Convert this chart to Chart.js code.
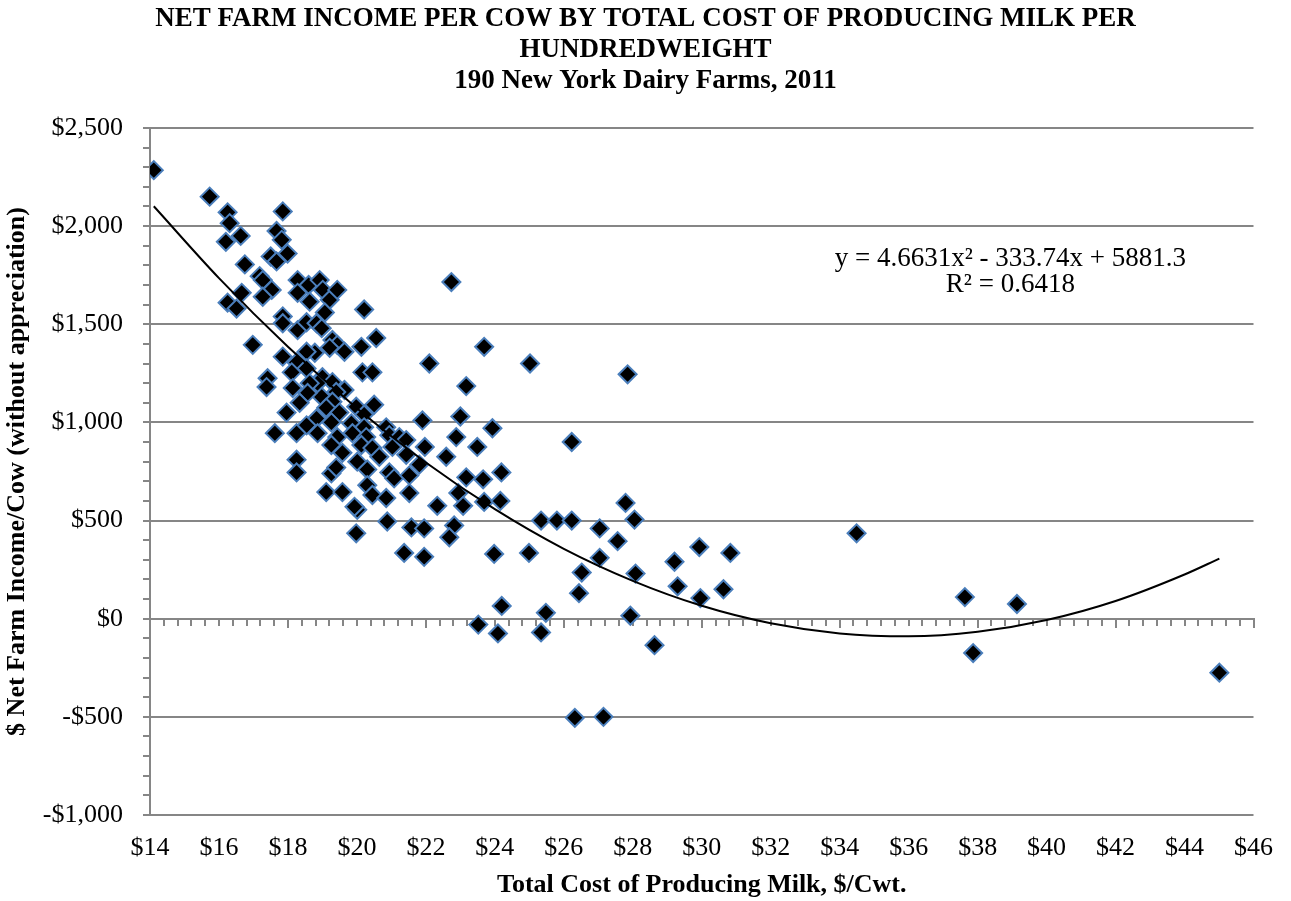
<!DOCTYPE html>
<html>
<head>
<meta charset="utf-8">
<script src="https://cdn.jsdelivr.net/npm/chart.js@4.4.0/dist/chart.umd.min.js"></script>
<style>
  html, body { margin: 0; padding: 0; background: #fff; }
  #wrap { width: 1291px; height: 901px; }
</style>
</head>
<body>
<div id="wrap"><canvas id="chart"></canvas></div>
<script>
/* ---------------------------------------------------
    Net farm income per cow vs total cost of milk, 2011
---------------------------------------------------*/

// total cost of producing milk, $/cwt (one entry per farm)
const costX = [
  14.11, 15.73, 16.25, 16.31, 16.20, 16.63, 17.85, 17.67, 17.82, 17.99,
  16.75, 17.50, 17.67, 17.18, 17.27, 17.53, 17.27, 16.66, 16.25, 16.51,
  17.85, 17.85, 16.98,
  18.28, 18.28, 18.60, 18.92, 19.01, 18.63, 19.21, 19.43, 19.07, 18.28,
  18.54, 18.83, 18.98, 20.21,
  17.85, 17.41, 17.38, 17.96, 17.62,
  19.29, 19.43, 19.64, 19.21, 18.78, 18.54, 20.13, 20.56, 18.25, 18.54,
  18.11, 20.16, 20.45, 22.10, 19.00, 19.29, 19.64, 19.40, 18.86, 18.63,
  18.14, 18.98, 18.57, 19.29, 19.98, 20.50, 20.21, 18.34, 19.11, 19.49,
  18.83, 18.54, 19.26, 19.84, 20.21, 20.85, 21.90, 18.25, 18.86, 19.43,
  19.87, 20.27, 20.94, 21.23, 21.43, 19.26, 19.58, 20.13, 20.45, 21.03,
  21.97, 21.43, 20.65,
  18.25, 18.25, 20.01, 20.30, 19.26, 19.40, 20.94, 21.08, 21.52, 21.81,
  20.30, 19.11, 19.58, 20.45, 20.85, 21.52, 20.01, 19.93, 20.88, 21.58,
  21.95, 19.98, 21.37, 21.95,
  23.69, 25.02, 23.17, 23.00, 23.93, 22.88, 23.49, 22.59, 23.17, 23.66,
  24.19, 22.94, 23.69, 24.16, 22.33, 23.08, 22.82, 22.68, 23.98, 24.99,
  22.74,
  24.20, 23.52, 24.09, 25.34, 25.48,
  26.23, 25.34, 25.80, 26.23, 27.04, 27.56, 27.79, 28.05, 27.04, 26.52,
  26.44, 27.93, 28.63, 28.08, 29.21, 29.30, 29.93, 29.96, 30.63, 30.83,
  26.32, 27.15, 27.85,
  34.49, 37.63, 39.14, 37.87, 45.01
];

// net farm income per cow without appreciation, $
const incomeY = [
  2285, 2150, 2070, 2015, 1920, 1950, 2075, 1975, 1930, 1860,
  1805, 1845, 1820, 1745, 1725, 1675, 1640, 1660, 1610, 1580,
  1540, 1505, 1395,
  1725, 1660, 1700, 1725, 1675, 1615, 1625, 1675, 1560, 1470,
  1510, 1505, 1480, 1575,
  1335, 1225, 1180, 1050, 945,
  1420, 1395, 1360, 1380, 1355, 1360, 1385, 1430, 1305, 1275,
  1255, 1255, 1255, 1300, 1230, 1205, 1165, 1155, 1200, 1200,
  1175, 1130, 1150, 1105, 1080, 1090, 1040, 1100, 1075, 1050,
  1020, 985, 1000, 995, 975, 975, 1010, 945, 945, 925,
  945, 925, 935, 925, 910, 885, 845, 885, 870, 875,
  875, 835, 825,
  810, 745, 800, 760, 740, 770, 745, 715, 730, 785,
  680, 645, 645, 630, 615, 640, 555, 570, 495, 465,
  460, 435, 335, 315,
  1385, 1300, 1185, 1030, 970, 925, 875, 825, 720, 710,
  745, 640, 595, 600, 575, 575, 475, 415, 330, 335,
  1715,
  65, -30, -75, -70, 30,
  900, 500, 500, 500, 460, 395, 590, 505, 310, 235,
  130, 15, -135, 230, 290, 165, 365, 105, 150, 335,
  -505, -500, 1245,
  435, 110, 75, -175, -275
];

// polynomial trendline
const trendX = [14.11, 16, 18, 20, 22, 24, 26, 28, 30, 32, 34, 36, 38, 40, 42, 44, 45.01];
const trendY = [2101, 1735, 1385, 1072, 796, 558, 356, 193, 66, -23, -75, -90, -67, -7, 90, 225, 306];

const titleLines = [
  "NET FARM INCOME PER COW BY TOTAL COST OF PRODUCING MILK PER",
  "HUNDREDWEIGHT",
  "190 New York Dairy Farms, 2011"
];
const equationLines = ["y = 4.6631x\u00B2 - 333.74x + 5881.3", "R\u00B2 = 0.6418"];

const FONT = "'Liberation Serif', 'Times New Roman', serif";
const GRID = "#868686";

function money(v) {
  const s = "$" + Math.abs(v).toLocaleString("en-US");
  return v < 0 ? "-" + s : s;
}

// draws the trendline equation in data space
const equationLabel = {
  id: "equationLabel",
  afterDatasetsDraw(chart) {
    const {ctx, scales} = chart;
    ctx.save();
    ctx.font = "27px " + FONT;
    ctx.fillStyle = "#000";
    ctx.textAlign = "center";
    ctx.textBaseline = "middle";
    ctx.fillText(equationLines[0], scales.x.getPixelForValue(38.95), scales.y.getPixelForValue(1835));
    ctx.fillText(equationLines[1], scales.x.getPixelForValue(38.95), scales.y.getPixelForValue(1700));
    ctx.restore();
  }
};

const points = costX.map((x, i) => ({x: x, y: incomeY[i]}));
const trend = trendX.map((x, i) => ({x: x, y: trendY[i]}));

new Chart(document.getElementById("chart"), {
  type: "scatter",
  data: {
    datasets: [
      {
        label: "Trend",
        data: trend,
        showLine: true,
        borderColor: "#000",
        borderWidth: 2,
        pointRadius: 0,
        cubicInterpolationMode: "monotone",
        fill: false
      },
      {
        label: "Farms",
        data: points,
        pointStyle: "rectRot",
        pointRadius: 9,
        pointHoverRadius: 9,
        backgroundColor: "#000",
        borderColor: "#4a7ebb",
        borderWidth: 2
      }
    ]
  },
  options: {
    responsive: true,
    maintainAspectRatio: false,
    animation: false,
    devicePixelRatio: 1,
    layout: { padding: 0 },
    plugins: {
      legend: { display: false },
      tooltip: { enabled: false },
      title: {
        display: true,
        text: titleLines,
        color: "#000",
        font: { family: FONT, size: 27, weight: "bold", lineHeight: 1.15 },
        padding: { top: 3.5, bottom: 31.3 }
      }
    },
    scales: {
      x: {
        type: "linear",
        position: "bottom",
        min: 14, max: 46,
        grid: { display: false, drawTicks: false },
        border: { display: false },
        ticks: {
          stepSize: 2, padding: 18, maxRotation: 0, autoSkip: false,
          color: "#000", font: { family: FONT, size: 26 },
          callback: v => "$" + v
        },
        title: {
          display: true,
          text: "Total Cost of Producing Milk, $/Cwt.",
          color: "#000",
          font: { family: FONT, size: 26, weight: "bold" },
          padding: { top: 0, bottom: 0 }
        },
        afterFit: s => { s.height = 86; }
      },
      y: {
        type: "linear",
        position: "left",
        min: -1000, max: 2500,
        grid: { color: GRID, lineWidth: 2, tickLength: 7 },
        border: { color: GRID, width: 2 },
        ticks: {
          stepSize: 500, padding: 20,
          color: "#000", font: { family: FONT, size: 26 },
          callback: v => money(v)
        },
        title: {
          display: true,
          text: "$ Net Farm Income/Cow (without appreciation)",
          color: "#000",
          font: { family: FONT, size: 26, weight: "bold" },
          padding: { top: 2, bottom: 0 }
        },
        afterFit: s => { s.width = 150; }
      },
      // empty right margin so the title stays centred on the page
      yRight: {
        type: "linear", axis: "y",
        position: "right",
        min: -1000, max: 2500,
        ticks: { display: false },
        grid: { display: false, drawTicks: false },
        border: { display: false },
        afterFit: s => { s.width = 34; }
      },
      // axis line crossing at $0 with its minor / major tick marks
      xMinor: {
        type: "linear", axis: "x",
        position: { y: 0 },
        min: 14, max: 46,
        ticks: { display: false, stepSize: 0.4 },
        grid: { drawOnChartArea: false, drawTicks: true, tickLength: 6, color: GRID, lineWidth: 2 },
        border: { display: true, color: GRID, width: 2 }
      },
      xMajor: {
        type: "linear", axis: "x",
        position: { y: 0 },
        min: 14, max: 46,
        ticks: { display: false, stepSize: 4 },
        grid: { drawOnChartArea: false, drawTicks: true, tickLength: 9, color: GRID, lineWidth: 2 },
        border: { display: false }
      },
      yMinor: {
        type: "linear", axis: "y",
        position: { x: 14 },
        min: -1000, max: 2500,
        ticks: { display: false, stepSize: 100 },
        grid: { drawOnChartArea: false, drawTicks: true, tickLength: 7, color: GRID, lineWidth: 2 },
        border: { display: false }
      }
    }
  },
  plugins: [equationLabel]
});
</script>
</body>
</html>
